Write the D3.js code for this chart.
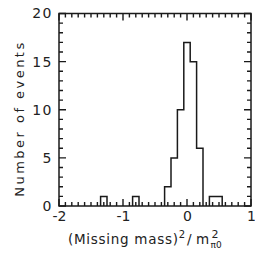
<!DOCTYPE html>
<html>
<head>
<meta charset="utf-8">
<script src="https://cdn.jsdelivr.net/npm/d3@7"></script>
<style>
  body { margin: 0; background: #fff; }
  svg { display: block; }
  text { font-family: "DejaVu Sans", sans-serif; fill: #222; }
</style>
</head>
<body>
<svg width="255" height="256"></svg>
<script>
const width = 255
const height = 256
const margins = { top: 13.5, bottom: 50, left: 59, right: 4 }

// histogram data: lower bin edge and counts (bin width 0.1)
const binWidth = 0.1
const binLo = [-1.35, -0.85, -0.35, -0.25, -0.15, -0.05, 0.05, 0.15, 0.35, 0.45]
const counts = [1, 1, 2, 5, 10, 17, 15, 6, 1, 1]

const xTicks = [-2, -1, 0, 1]
const xTickLabels = ["-2", "-1", "0", "1"]
const yTicks = [0, 5, 10, 15, 20]

let svg = d3.select('svg')

const xScale = d3.scaleLinear().domain([-2, 1]).range([margins.left, width - margins.right])
const yScale = d3.scaleLinear().domain([0, 20]).range([height - margins.bottom, margins.top])

const x0 = xScale.range()[0], x1 = xScale.range()[1]
const y0 = yScale.range()[0], y1 = yScale.range()[1]

// minor ticks every 0.1 on x and 1 on y
const xMinor = d3.range(-20, 11).map(d => d / 10).filter(d => !xTicks.includes(d))
const yMinor = d3.range(0, 21).filter(d => !yTicks.includes(d))

const ink = "#1a1a1a"

// inward ticks on all four sides
const xAll = xMinor.map(v => ({ v, len: 4 })).concat(xTicks.map(v => ({ v, len: 7 })))
const yAll = yMinor.map(v => ({ v, len: 4 })).concat(yTicks.map(v => ({ v, len: 7 })))
let tickPath = ""
xAll.forEach(d => {
    const x = xScale(d.v)
    tickPath += "M" + x + "," + y0 + "L" + x + "," + (y0 - d.len)
    tickPath += "M" + x + "," + y1 + "L" + x + "," + (y1 + d.len)
})
yAll.forEach(d => {
    const y = yScale(d.v)
    tickPath += "M" + x0 + "," + y + "L" + (x0 + d.len) + "," + y
    tickPath += "M" + x1 + "," + y + "L" + (x1 - d.len) + "," + y
})
svg.append("path")
    .attr("class", "ticks")
    .attr("d", tickPath)
    .style("fill", "none")
    .style("stroke", ink)
    .style("stroke-width", "1.4px")

// frame
svg.append("rect")
    .attr("x", x0).attr("y", y1)
    .attr("width", x1 - x0).attr("height", y0 - y1)
    .attr("fill", "none").attr("stroke", ink).attr("stroke-width", 1.5)

// histogram outline
const pts = []
binLo.forEach((lo, i) => {
    const hi = lo + binWidth
    const prevAdj = i > 0 && Math.abs(binLo[i - 1] + binWidth - lo) < 1e-6
    const nextAdj = i < binLo.length - 1 && Math.abs(binLo[i + 1] - hi) < 1e-6
    if (!prevAdj) pts.push({ x: lo, y: 0, move: true })
    pts.push({ x: lo, y: counts[i] })
    pts.push({ x: hi, y: counts[i] })
    if (!nextAdj) pts.push({ x: hi, y: 0 })
})
let pathStr = ""
pts.forEach(p => {
    pathStr += (p.move ? "M" : "L") + xScale(p.x) + "," + yScale(p.y)
})
svg.append("path")
    .attr("d", pathStr)
    .attr("fill", "none")
    .attr("stroke", ink)
    .attr("stroke-width", 1.5)

// tick labels
const yAx = svg.append('g').attr("transform", `translate(${x0},0)`)
    .call(d3.axisLeft(yScale).tickValues(yTicks).tickSize(0).tickPadding(6))
yAx.select(".domain").remove()
yAx.selectAll("text").style("font-size", "14px").style("letter-spacing", "1.5px")
    .style("font-family", "'DejaVu Sans', sans-serif").attr("fill", ink)

const xAx = svg.append('g').attr("transform", `translate(0,${y0})`)
    .call(d3.axisBottom(xScale).tickValues(xTicks).tickSize(0).tickPadding(5)
        .tickFormat((d, i) => xTickLabels[i]))
xAx.select(".domain").remove()
xAx.selectAll("text").style("font-size", "14px")
    .style("font-family", "'DejaVu Sans', sans-serif").attr("fill", ink)

// y axis title
svg.append("text")
    .attr("transform", `translate(24,${(y0 + y1) / 2 + 10}) rotate(-90)`)
    .attr("text-anchor", "middle")
    .style("font-size", "13px")
    .attr("textLength", 154)
    .attr("lengthAdjust", "spacing")
    .text("Number of events")

// x axis title
const xt = svg.append("text")
    .attr("x", 68).attr("y", 244)
    .style("font-size", "13.5px")
xt.append("tspan").attr("textLength", 110).attr("lengthAdjust", "spacing").text("(Missing mass)")
xt.append("tspan").attr("dy", -6).style("font-size", "10px").text("2")
xt.append("tspan").attr("dy", 6).attr("dx", 2).text("/ m")
const ex = xt.node().getBBox()
const sx = ex.x + ex.width + 1.5
svg.append("text").attr("x", sx + 1).attr("y", 238)
    .style("font-size", "11px").text("2")
svg.append("text").attr("x", sx).attr("y", 248)
    .style("font-size", "9px").text("π0")
</script>
</body>
</html>
